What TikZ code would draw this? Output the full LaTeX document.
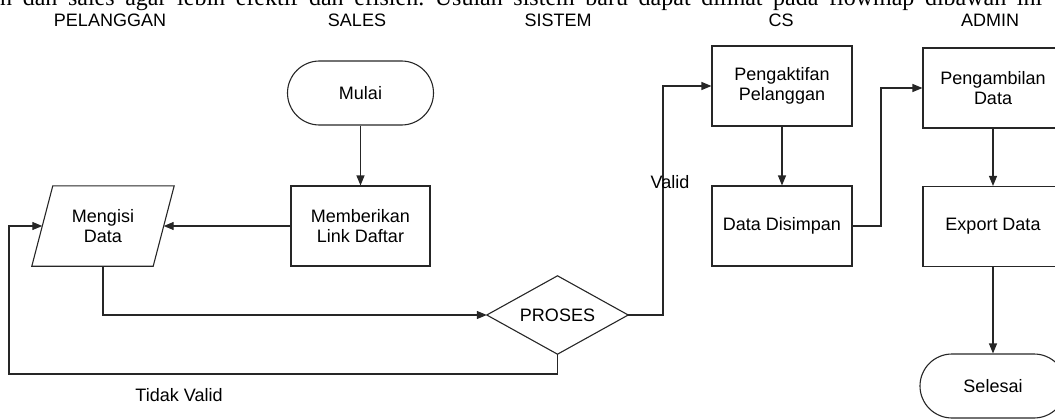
\documentclass[tikz,border=0pt]{standalone}
\usepackage{fontspec}
\setmainfont{Liberation Sans}
\newfontfamily\bodyserif{Liberation Serif}
\usetikzlibrary{arrows.meta}
\frenchspacing
\begin{document}
\begin{tikzpicture}[x=1pt,y=-1pt,
  line/.style={draw=black!85, line width=1.1pt},
  arr/.style={line, -{Triangle[length=10pt,width=8pt]}},
  txt/.style={font=\fontsize{18}{19.5}\selectfont, align=center, inner sep=0pt},
  procbox/.style={txt, draw=black!85, line width=1.1pt, minimum width=140pt, minimum height=80pt},
  term/.style={procbox, minimum width=146pt, minimum height=64pt, rounded corners=32pt},
  ghost/.style={txt, draw=none}]
\useasboundingbox (0,0) rectangle (1055,420);
\clip (0,0) rectangle (1055,420);

% clipped body text line (cut off at the top edge, as in the reference)
\node[anchor=base west, inner sep=0pt, font=\bodyserif\fontsize{24}{28}\selectfont] (intro) at (0,5.5)
  {\makebox[1042pt][s]{n dan sales agar lebih efektif dan efisien. Usulan sistem baru dapat dilihat pada flowmap dibawah ini}};

% lane headers
\node[txt] (h1) at (110,20) {PELANGGAN};
\node[txt] (h2) at (357,20) {SALES};
\node[txt] (h3) at (558,20) {SISTEM};
\node[txt] (h4) at (781,20) {CS};
\node[txt] (h5) at (990,20) {ADMIN};

% nodes
\node[term] (mulai) at (360.5,93) {Mulai};
\node[procbox, minimum width=139pt] (memberikan) at (360.5,226) {Memberikan\\Link Daftar};
\node[ghost, minimum width=121pt, minimum height=80pt] (mengisi) at (103,226) {Mengisi\\Data};
\draw[line] ([xshift=10.5pt]mengisi.north west) -- ([xshift=10.5pt]mengisi.north east)
  -- ([xshift=-10.5pt]mengisi.south east) -- ([xshift=-10.5pt]mengisi.south west) -- cycle;
\node[ghost, minimum width=141pt, minimum height=78pt] (proses) at (557.5,315) {PROSES};
\draw[line] (proses.north) -- (proses.east) -- (proses.south) -- (proses.west) -- cycle;
\node[procbox] (pengaktifan) at (782,86) {Pengaktifan\\Pelanggan};
\node[procbox] (disimpan) at (782,226) {Data Disimpan};
\node[procbox] (pengambilan) at (993,88) {Pengambilan\\Data};
\node[procbox] (export) at (993,226.5) {Export Data};
\node[term] (selesai) at (993,386) {Selesai};

% corner points
\coordinate (tvcorner) at (9,374);
\coordinate (validcorner) at (663,86);
\coordinate (dscorner) at (881,88);

% connectors
\draw[arr] (mulai.south) -- (memberikan.north);
\draw[arr] (memberikan.west) -- (mengisi.east);
\draw[arr] (mengisi.south) |- (proses.west);
\draw[arr] (proses.south) |- (tvcorner) |- (mengisi.west);
\draw[arr] (proses.east) -| (validcorner) -- (pengaktifan.west);
\draw[arr] (pengaktifan.south) -- (disimpan.north);
\draw[arr] (disimpan.east) -| (dscorner) -- (pengambilan.west);
\draw[arr] (pengambilan.south) -- (export.north);
\draw[arr] (export.south) -- (selesai.north);

% labels
\node[txt] (tidakvalid) at (179,395) {Tidak Valid};
\node[txt] (valid) at (670,182) {Valid};
\end{tikzpicture}
\end{document}
